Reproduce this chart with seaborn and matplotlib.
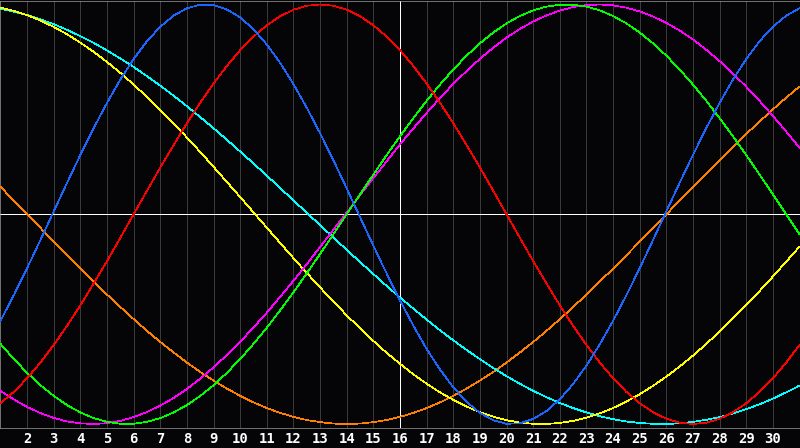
import matplotlib
matplotlib.use("Agg")
import matplotlib.pyplot as plt
import numpy as np
import pandas as pd
import seaborn as sns

# half-day steps from day 1 to day 31
days = [x / 2 for x in range(2, 63)]

physical = [-0.508, -0.386, -0.257, -0.123, 0.014, 0.150, 0.283, 0.411, 0.531, 0.642,
            0.740, 0.825, 0.894, 0.947, 0.982, 0.999, 0.997, 0.976, 0.938, 0.882,
            0.809, 0.722, 0.620, 0.508, 0.386, 0.257, 0.123, -0.014, -0.150, -0.283,
            -0.411, -0.531, -0.642, -0.740, -0.825, -0.894, -0.947, -0.982, -0.999, -0.997,
            -0.976, -0.938, -0.882, -0.809, -0.722, -0.620, -0.508, -0.386, -0.257, -0.123,
            0.014, 0.150, 0.283, 0.411, 0.531, 0.642, 0.740, 0.825, 0.894, 0.947, 0.982]
emotional = [-0.901, -0.847, -0.782, -0.707, -0.623, -0.532, -0.434, -0.330, -0.223, -0.112,
             0.0, 0.112, 0.223, 0.330, 0.434, 0.532, 0.623, 0.707, 0.782, 0.847,
             0.901, 0.944, 0.975, 0.994, 1.000, 0.994, 0.975, 0.944, 0.901, 0.847,
             0.782, 0.707, 0.623, 0.532, 0.434, 0.330, 0.223, 0.112, 0.0, -0.112,
             -0.223, -0.330, -0.434, -0.532, -0.623, -0.707, -0.782, -0.847, -0.901, -0.944,
             -0.975, -0.994, -1.000, -0.994, -0.975, -0.944, -0.901, -0.847, -0.782, -0.707, -0.623]
intellectual = [-0.618, -0.690, -0.756, -0.815, -0.866, -0.910, -0.945, -0.972, -0.990, -0.999,
                -0.999, -0.990, -0.972, -0.945, -0.910, -0.866, -0.815, -0.756, -0.690, -0.618,
                -0.541, -0.458, -0.372, -0.282, -0.189, -0.095, 0.0, 0.095, 0.189, 0.282,
                0.372, 0.458, 0.541, 0.618, 0.690, 0.756, 0.815, 0.866, 0.910, 0.945,
                0.972, 0.990, 0.999, 0.999, 0.990, 0.972, 0.945, 0.910, 0.866, 0.815,
                0.756, 0.690, 0.618, 0.541, 0.458, 0.372, 0.282, 0.189, 0.095, 0.0, -0.095]
intuitive = [-0.842, -0.883, -0.919, -0.948, -0.971, -0.988, -0.997, -1.000, -0.996, -0.985,
             -0.967, -0.943, -0.912, -0.876, -0.833, -0.784, -0.730, -0.671, -0.608, -0.540,
             -0.469, -0.394, -0.317, -0.238, -0.156, -0.074, 0.008, 0.091, 0.173, 0.253,
             0.333, 0.409, 0.483, 0.554, 0.621, 0.683, 0.741, 0.794, 0.842, 0.883,
             0.919, 0.948, 0.971, 0.988, 0.997, 1.000, 0.996, 0.985, 0.967, 0.943,
             0.912, 0.876, 0.833, 0.784, 0.730, 0.671, 0.608, 0.540, 0.469, 0.394, 0.317]
aesthetic = [0.985, 0.970, 0.949, 0.924, 0.893, 0.858, 0.818, 0.774, 0.726, 0.674,
             0.618, 0.559, 0.497, 0.432, 0.366, 0.297, 0.226, 0.154, 0.082, 0.009,
             -0.064, -0.137, -0.209, -0.280, -0.349, -0.416, -0.482, -0.544, -0.604, -0.661,
             -0.713, -0.763, -0.808, -0.849, -0.885, -0.917, -0.944, -0.965, -0.982, -0.993,
             -0.999, -1.000, -0.995, -0.985, -0.970, -0.949, -0.924, -0.893, -0.858, -0.818,
             -0.774, -0.726, -0.674, -0.618, -0.559, -0.497, -0.432, -0.366, -0.297, -0.226, -0.154]
spiritual = [0.980, 0.966, 0.950, 0.929, 0.906, 0.879, 0.849, 0.817, 0.781, 0.743,
             0.702, 0.658, 0.613, 0.565, 0.515, 0.463, 0.410, 0.355, 0.299, 0.242,
             0.184, 0.125, 0.066, 0.007, -0.052, -0.111, -0.170, -0.228, -0.285, -0.342,
             -0.397, -0.450, -0.502, -0.553, -0.601, -0.647, -0.691, -0.733, -0.772, -0.808,
             -0.842, -0.872, -0.900, -0.924, -0.945, -0.963, -0.977, -0.988, -0.995, -0.999,
             -1.000, -0.997, -0.990, -0.980, -0.967, -0.950, -0.929, -0.906, -0.879, -0.849, -0.817]
awareness = [0.131, 0.065, 0.0, -0.065, -0.131, -0.195, -0.259, -0.321, -0.383, -0.442,
             -0.500, -0.556, -0.609, -0.659, -0.707, -0.752, -0.793, -0.831, -0.866, -0.897,
             -0.924, -0.947, -0.966, -0.981, -0.991, -0.998, -1.000, -0.998, -0.991, -0.981,
             -0.966, -0.947, -0.924, -0.897, -0.866, -0.831, -0.793, -0.752, -0.707, -0.659,
             -0.609, -0.556, -0.500, -0.442, -0.383, -0.321, -0.259, -0.195, -0.131, -0.065,
             0.0, 0.065, 0.131, 0.195, 0.259, 0.321, 0.383, 0.442, 0.500, 0.556, 0.609]

cycle_names = ["awareness", "spiritual", "aesthetic", "intuitive", "intellectual", "emotional", "physical"]
cycle_values = [awareness, spiritual, aesthetic, intuitive, intellectual, emotional, physical]
colors = {
    "physical": "#1a66ff",
    "emotional": "#ff0000",
    "intellectual": "#00ff00",
    "intuitive": "#ff00ff",
    "aesthetic": "#ffff00",
    "spiritual": "#00ffff",
    "awareness": "#ff8000",
}

tick_days = list(range(2, 31))

# long table for seaborn
rows = []
for name, vals in zip(cycle_names, cycle_values):
    assert len(vals) == len(days), name
    for d, v in zip(days, vals):
        rows.append({"day": d, "value": v, "cycle": name})
df = pd.DataFrame(rows)

bg = "#050508"
sns.set_style("dark", {"axes.facecolor": bg, "figure.facecolor": bg})

fig = plt.figure(figsize=(8, 4.48), dpi=100)
ax = fig.add_axes([0.0006, 20 / 448, 0.9988, 427.5 / 448])
ax.set_facecolor(bg)

lw = 0.5  # a bit under one pixel so the aliased lines stay 1px
ax.set_xticks(tick_days)
ax.grid(axis="x", color="#3a3a3a", linewidth=lw, antialiased=False)
ax.grid(axis="y", visible=False)
ax.set_axisbelow(True)

ax.axvline(16, color="white", linewidth=lw, zorder=1.5, antialiased=False)
ax.axhline(0, color="white", linewidth=lw, zorder=1.5, antialiased=False)

sns.lineplot(data=df, x="day", y="value", hue="cycle", palette=colors,
             hue_order=cycle_names, linewidth=lw, legend=False, ax=ax,
             antialiased=False, zorder=3)

ax.set_xlim(1, 31)
ax.set_ylim(-214 / 210, 214 / 210)
ax.set_yticks([])
ax.set_xlabel("")
ax.set_ylabel("")
ax.set_xticklabels([str(d) for d in tick_days], color="white",
                   fontfamily="DejaVu Sans Mono", fontweight="bold", fontsize=10)
ax.tick_params(axis="x", length=0, pad=3)

for side in ["left", "right", "top", "bottom"]:
    ax.spines[side].set_visible(True)
    ax.spines[side].set_color("#a0a0a0")
    ax.spines[side].set_linewidth(lw)

fig.savefig("out.png", dpi=100, facecolor=bg)
